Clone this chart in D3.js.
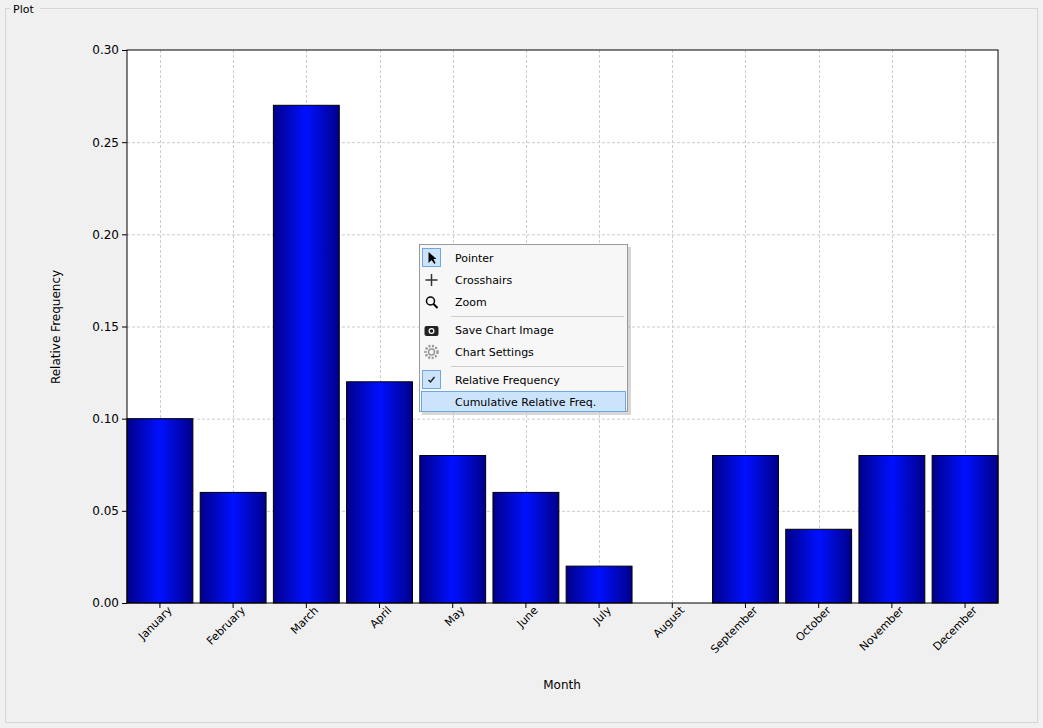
<!DOCTYPE html>
<html><head><meta charset="utf-8">
<script src="https://cdn.jsdelivr.net/npm/d3@7"></script>
<style>body{margin:0;background:#f0f0f0;font-family:"DejaVu Sans",sans-serif}</style>
</head><body><svg id="c" width="1043" height="728"></svg>
<script>
const months = ['January','February','March','April','May','June','July','August','September','October','November','December']
const relFreq = [0.10, 0.06, 0.27, 0.12, 0.08, 0.06, 0.02, 0, 0.08, 0.04, 0.08, 0.08]
const yTicks = [0, 0.05, 0.10, 0.15, 0.20, 0.25, 0.30]
const menuItems = ['Pointer','Crosshairs','Zoom','','Save Chart Image','Chart Settings','','Relative Frequency','Cumulative Relative Freq.']

let svg = d3.select('#c')
let defs = svg.append('defs')
let grad = defs.append('linearGradient').attr('id', 'barGrad')
  .attr('x1', '0%').attr('x2', '100%').attr('y1', '0%').attr('y2', '0%')
grad.append('stop').attr('offset', '0%').attr('stop-color', '#00008a')
grad.append('stop').attr('offset', '50%').attr('stop-color', '#0010ff')
grad.append('stop').attr('offset', '100%').attr('stop-color', '#00008a')

// group box
svg.append('rect').attr('x', 5.5).attr('y', 8.5).attr('width', 1032).attr('height', 714)
  .attr('fill', 'none').attr('stroke', '#d5d5d5')
svg.append('rect').attr('x', 10).attr('y', 2).attr('width', 30).attr('height', 14).attr('fill', '#f0f0f0')
svg.append('text').attr('x', 13).attr('y', 13).attr('font-size', 11).text('Plot')

let pLeft = 127, pRight = 998, pTop = 50, pBottom = 603
let x = d3.scaleBand().domain(months).range([pLeft, pRight]).paddingInner(0.1).paddingOuter(0)
let y = d3.scaleLinear().domain([0, 0.3]).range([pBottom, pTop])

svg.append('rect').attr('x', pLeft).attr('y', pTop).attr('width', pRight - pLeft).attr('height', pBottom - pTop).attr('fill', 'white')

let g = svg.append('g')
g.selectAll('.hg').data(yTicks.slice(1, -1)).join('line')
  .attr('x1', pLeft).attr('x2', pRight).attr('y1', d => y(d) + 0.5).attr('y2', d => y(d) + 0.5)
  .attr('stroke', '#ccc').attr('stroke-dasharray', '3,2')
g.selectAll('.vg').data(months).join('line')
  .attr('x1', d => Math.round(x(d) + x.bandwidth() / 2) + 0.5).attr('x2', d => Math.round(x(d) + x.bandwidth() / 2) + 0.5)
  .attr('y1', pTop).attr('y2', pBottom)
  .attr('stroke', '#ccc').attr('stroke-dasharray', '3,2')

g.selectAll('.bar').data(months).join('rect')
  .attr('x', d => x(d)).attr('width', x.bandwidth())
  .attr('y', (d, i) => y(relFreq[i])).attr('height', (d, i) => pBottom - y(relFreq[i]))
  .attr('fill', 'url(#barGrad)').attr('stroke', 'black').attr('stroke-width', 1)

svg.append('rect').attr('x', pLeft).attr('y', pTop).attr('width', pRight - pLeft).attr('height', pBottom - pTop)
  .attr('fill', 'none').attr('stroke', 'black')

let ya = svg.append('g').attr('transform', `translate(${pLeft},0)`)
  .call(d3.axisLeft(y).tickValues(yTicks).tickFormat(d3.format('.2f')).tickSize(5).tickSizeOuter(0))
ya.select('.domain').remove()
ya.selectAll('text').attr('font-size', 12).attr('font-family', 'DejaVu Sans').attr('fill', 'black')

let xa = svg.append('g').attr('transform', `translate(0,${pBottom})`)
  .call(d3.axisBottom(x).tickSize(5).tickSizeOuter(0))
xa.select('.domain').remove()
xa.selectAll('text').attr('font-size', 11).attr('font-family', 'DejaVu Sans').attr('fill', 'black')
  .attr('text-anchor', 'end').attr('dx', '0.3em').attr('dy', '0.6em')
  .attr('transform', 'rotate(-45)')

svg.append('text').attr('x', 562).attr('y', 689).attr('text-anchor', 'middle').attr('font-size', 12).text('Month')
svg.append('text').attr('transform', 'translate(60,327) rotate(-90)').attr('text-anchor', 'middle')
  .attr('font-size', 12).text('Relative Frequency')

// context menu
let m = svg.append('g').attr('transform', 'translate(419,244)')
m.append('rect').attr('x', 3).attr('y', 3).attr('width', 209).attr('height', 168).attr('fill', '#999').attr('opacity', 0.4)
m.append('rect').attr('x', 0.5).attr('y', 0.5).attr('width', 208).attr('height', 167).attr('fill', '#f7f7f7').attr('stroke', '#999')
let iy = 3
menuItems.forEach((t, i) => {
  if (t === '') {
    m.append('line').attr('x1', 32).attr('x2', 205).attr('y1', iy + 3.5).attr('y2', iy + 3.5).attr('stroke', '#ccc')
    iy += 6
    return
  }
  if (i === 8) m.append('rect').attr('x', 2.5).attr('y', iy + 0.5).attr('width', 204).attr('height', 20)
    .attr('fill', '#cce4fb').attr('stroke', '#6fa8e0')
  if (i === 0 || i === 7) m.append('rect').attr('x', 3.5).attr('y', iy + 1.5).attr('width', 18).attr('height', 18)
    .attr('fill', '#cce4fb').attr('stroke', '#6fa8e0')
  m.append('text').attr('x', 36).attr('y', iy + 15).attr('font-size', 11).text(t)
  let cx = 12.5, cy = iy + 11
  if (i === 0) m.append('path').attr('d', `M${cx - 3},${cy - 6} L${cx - 3},${cy + 5} L${cx},${cy + 2} L${cx + 3},${cy + 6} L${cx + 4},${cy + 5} L${cx + 2},${cy + 1} L${cx + 5},${cy + 1} Z`).attr('fill', 'black')
  if (i === 1) m.append('path').attr('d', `M${cx - 6},${cy} H${cx + 6} M${cx},${cy - 6} V${cy + 6}`).attr('stroke', '#333').attr('stroke-width', 1.5)
  if (i === 2) {
    m.append('circle').attr('cx', cx - 1).attr('cy', cy - 1).attr('r', 4).attr('fill', 'none').attr('stroke', 'black').attr('stroke-width', 1.5)
    m.append('line').attr('x1', cx + 2).attr('y1', cy + 2).attr('x2', cx + 6).attr('y2', cy + 6).attr('stroke', 'black').attr('stroke-width', 2)
  }
  if (i === 4) {
    m.append('rect').attr('x', cx - 7).attr('y', cy - 4).attr('width', 14).attr('height', 10).attr('rx', 2).attr('fill', '#222')
    m.append('circle').attr('cx', cx).attr('cy', cy + 1).attr('r', 3).attr('fill', 'white')
    m.append('circle').attr('cx', cx).attr('cy', cy + 1).attr('r', 1.8).attr('fill', '#222')
  }
  if (i === 5) {
    m.append('circle').attr('cx', cx).attr('cy', cy).attr('r', 6).attr('fill', 'none').attr('stroke', '#999').attr('stroke-width', 2.5).attr('stroke-dasharray', '2,1.5')
    m.append('circle').attr('cx', cx).attr('cy', cy).attr('r', 3).attr('fill', 'none').attr('stroke', '#999').attr('stroke-width', 1.5)
  }
  if (i === 7) m.append('path').attr('d', `M${cx - 3},${cy} L${cx - 1},${cy + 2} L${cx + 3},${cy - 3}`).attr('fill', 'none').attr('stroke', '#222').attr('stroke-width', 1.5)
  iy += 22
})
</script></body></html>
